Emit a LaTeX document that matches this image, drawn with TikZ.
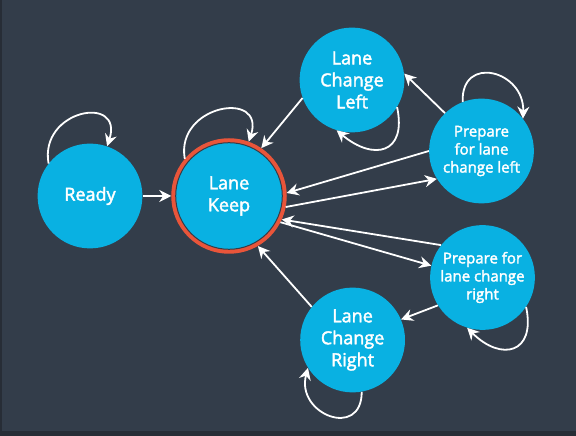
\documentclass[tikz,border=0pt]{standalone}
\usepackage{fontspec}
\setmainfont{Open Sans}
\newfontfamily\statefont{Open Sans}[FakeBold=2.2]
\usetikzlibrary{arrows.meta}
\definecolor{bgslate}{HTML}{333D4A}
\definecolor{bgdark}{HTML}{272D36}
\definecolor{stateblue}{HTML}{09B1E2}
\definecolor{keepred}{HTML}{E9553A}
\tikzset{
  state/.style={circle,fill=stateblue,minimum size=104.8pt,inner sep=0pt,text=white,align=center,font=\statefont\fontsize{18}{22}\selectfont},
  smallstate/.style={state,font=\statefont\fontsize{15}{18}\selectfont},
  trans/.style={white,line width=1.8pt,-{Stealth[length=12pt,width=12pt,inset=4pt]}},
}
\begin{document}
\begin{tikzpicture}[x=1pt,y=1pt]
    \fill[bgslate] (0,0) rectangle (576,436);
    \fill[bgdark] (0,0) rectangle (576,5);
    \fill[bgdark] (0,5) rectangle (2,436);
    \useasboundingbox (0,0) rectangle (576,436);

    \node[state] (ready) at (90,240) {Ready};
    \node[state,minimum size=111pt,draw=keepred,line width=4.5pt] (keep) at (229,240) {Lane\\Keep};
    \draw[bgslate,line width=1pt] (keep) circle (53.3pt);
    \node[state] (lcl) at (352,356) {Lane\\Change\\Left};
    \node[smallstate] (pl) at (481.5,285) {Prepare\\for lane\\change left};
    \node[smallstate] (pr) at (482.5,158.5) {Prepare for\\lane change\\right};
    \node[state] (lcr) at (352.6,96) {Lane\\Change\\Right};

    \draw[trans] (ready) -- (keep);
    \draw[trans] (lcl.200) -- (keep.56);
    \draw[trans] (pl.134) -- (lcl.7);
    \draw[trans] (pl.180) -- (keep.3);
    \draw[trans] (keep.-11) -- (pl.212);
    \draw[trans] (pr.142) -- (keep.-24);
    \draw[trans] (keep.-27) -- (pr.167);
    \draw[trans] (pr.212) -- (lcr.23);
    \draw[trans] (lcr.141) -- (keep.-60);

    \draw[trans] (ready.142) to[out=100,in=72,distance=55pt] (ready.71);
    \draw[trans] (keep.140) to[out=100,in=72,distance=55pt] (keep.70);
    \draw[trans] (lcl.-31) to[out=-78,in=-40,distance=48pt] (lcl.253);
    \draw[trans] (pl.111) to[out=92,in=88,distance=48pt] (pl.38);
    \draw[trans] (pr.-34) to[out=-78,in=-45,distance=48pt] (pr.253);
    \draw[trans] (lcr.-80) to[out=-90,in=-105,distance=48pt] (lcr.212);
\end{tikzpicture}
\end{document}
